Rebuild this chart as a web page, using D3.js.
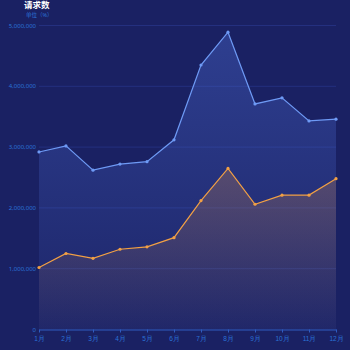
<!DOCTYPE html>
<html><head><meta charset="utf-8">
<script src="https://cdn.jsdelivr.net/npm/d3@7"></script>
<style>
html,body{margin:0;padding:0;background:#1a2163;}
svg{display:block;font-family:"Noto Sans","Noto Sans CJK SC",sans-serif;}
</style></head>
<body>
<svg id="c" width="350" height="350"></svg>
<script>
const months = ["1月","2月","3月","4月","5月","6月","7月","8月","9月","10月","11月","12月"];
const seriesA = [2920000,3020000,2620000,2720000,2760000,3120000,4350000,4890000,3710000,3810000,3430000,3460000];
const seriesB = [1020000,1250000,1170000,1320000,1360000,1510000,2120000,2650000,2060000,2210000,2210000,2480000];
const yTicks = [0,1000000,2000000,3000000,4000000,5000000];
const title = "请求数";
const subtitle = "单位（%）";

const svg = d3.select("#c");
svg.append("rect").attr("width",350).attr("height",350).attr("fill","#1a2163");

const x = d3.scalePoint().domain(months).range([39,336]);
const y = d3.scaleLinear().domain([0,5000000]).range([329.5,25.5]);

const defs = svg.append("defs");
const gA = defs.append("linearGradient").attr("id","gA").attr("x1",0).attr("y1",0).attr("x2",0).attr("y2",1);
gA.append("stop").attr("offset","0%").attr("stop-color","#4f6fd8").attr("stop-opacity",0.38);
gA.append("stop").attr("offset","100%").attr("stop-color","#4f6fd8").attr("stop-opacity",0.06);
const gB = defs.append("linearGradient").attr("id","gB").attr("x1",0).attr("y1",0).attr("x2",0).attr("y2",1);
gB.append("stop").attr("offset","0%").attr("stop-color","#c8824a").attr("stop-opacity",0.3);
gB.append("stop").attr("offset","100%").attr("stop-color","#c8824a").attr("stop-opacity",0.02);

// grid
svg.append("g").selectAll("line").data(yTicks.filter(d=>d>0)).join("line")
  .attr("x1",39).attr("x2",336).attr("y1",d=>y(d)).attr("y2",d=>y(d))
  .attr("stroke","#24307f").attr("stroke-width",1);

// y labels
svg.append("g").selectAll("text").data(yTicks).join("text")
  .attr("x",36).attr("y",d=>y(d)).attr("dy","0.35em").attr("text-anchor","end")
  .attr("font-size",6).attr("fill","#2a72d6")
  .text(d=>d3.format(",")(d));

const area = d3.area().x((d,i)=>x(months[i])).y0(y(0)).y1(d=>y(d));
const line = d3.line().x((d,i)=>x(months[i])).y(d=>y(d));

svg.append("path").datum(seriesA).attr("d",area).attr("fill","url(#gA)");
svg.append("path").datum(seriesB).attr("d",area).attr("fill","url(#gB)");
svg.append("path").datum(seriesA).attr("d",line).attr("fill","none").attr("stroke","#6e9af5").attr("stroke-width",1.2);
svg.append("path").datum(seriesB).attr("d",line).attr("fill","none").attr("stroke","#f2a044").attr("stroke-width",1.2);
svg.append("g").selectAll("circle").data(seriesA).join("circle")
  .attr("cx",(d,i)=>x(months[i])).attr("cy",d=>y(d)).attr("r",1.6).attr("fill","#6e9af5");
svg.append("g").selectAll("circle").data(seriesB).join("circle")
  .attr("cx",(d,i)=>x(months[i])).attr("cy",d=>y(d)).attr("r",1.6).attr("fill","#f2a044");

// x axis
const xa = svg.append("g").attr("transform",`translate(0,${y(0)})`).call(d3.axisBottom(x).tickSize(3).tickSizeOuter(0));
xa.select(".domain").attr("stroke","#2f5cc0");
xa.selectAll(".tick line").attr("stroke","#2f5cc0");
xa.selectAll("text").attr("font-size",6.5).attr("fill","#2a72d6").attr("dy","0.9em");

svg.append("text").attr("x",24).attr("y",8).attr("font-size",8.5).attr("font-weight","bold").attr("fill","#ffffff").text(title);
svg.append("text").attr("x",26).attr("y",17).attr("font-size",5.5).attr("fill","#2a72d6").text(subtitle);
</script>
</body></html>
